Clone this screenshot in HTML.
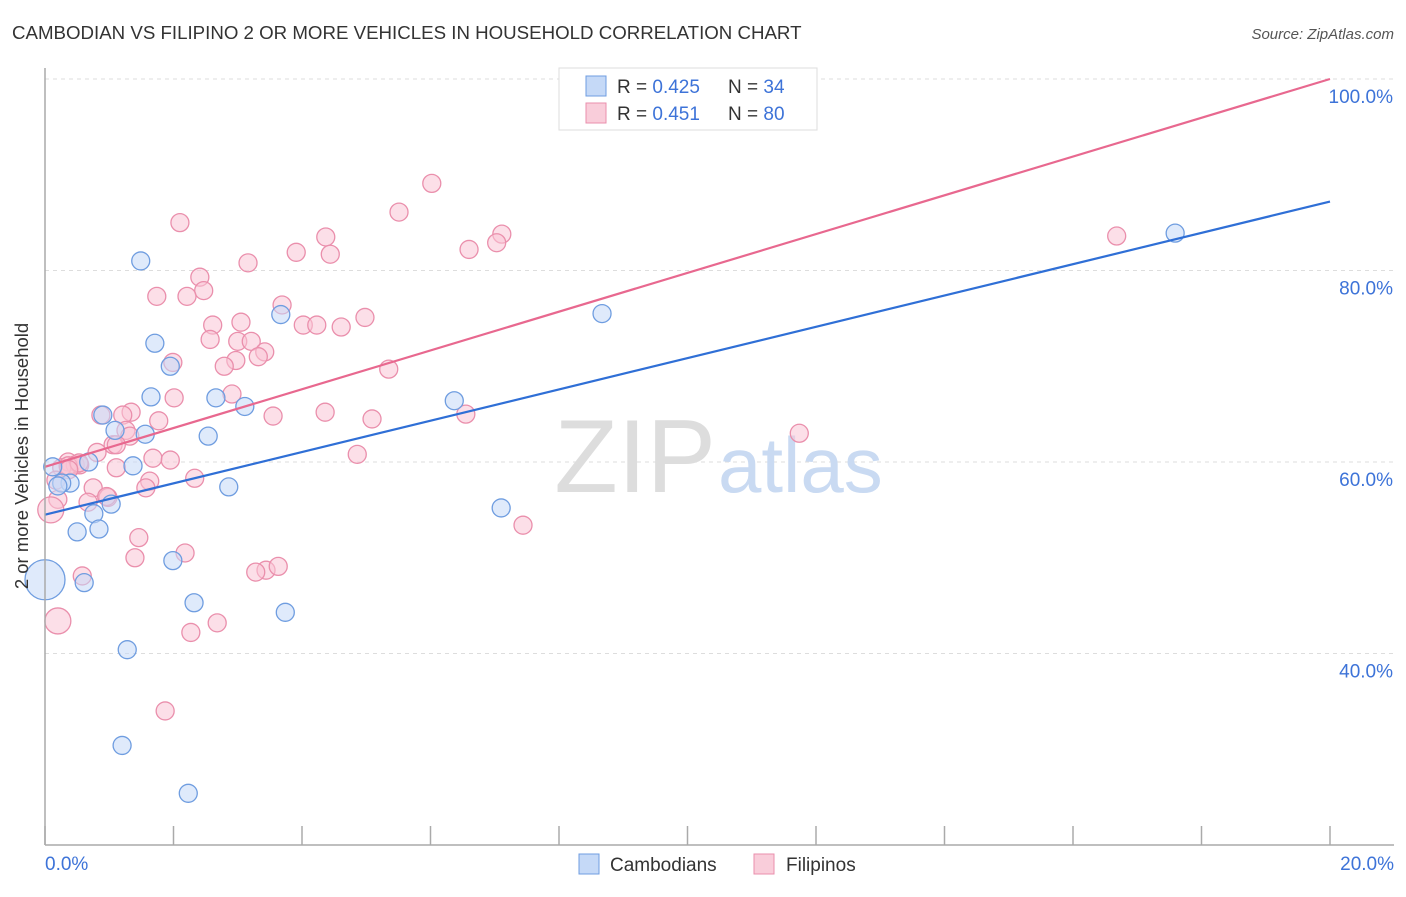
<!DOCTYPE html>
<html><head><meta charset="utf-8"><style>
body{margin:0;background:#fff;font-family:"Liberation Sans",sans-serif}
svg text{font-family:"Liberation Sans",sans-serif}
</style></head><body>
<svg width="1406" height="892" viewBox="0 0 1406 892" xmlns="http://www.w3.org/2000/svg">
<text x="12" y="39" font-size="18.7" fill="#333">CAMBODIAN VS FILIPINO 2 OR MORE VEHICLES IN HOUSEHOLD CORRELATION CHART</text>
<text x="1394" y="39" font-size="15" fill="#555" text-anchor="end" font-style="italic">Source: ZipAtlas.com</text>
<g id="grid"></g>
<text x="716" y="492" font-size="104" fill="#ddd" text-anchor="end" font-family="Liberation Serif">ZIP</text>
<text x="718" y="492" font-size="78" fill="#c9daf2">atlas</text>
<g id="pts"></g>
<g id="lines"></g>
<g id="axes"></g>
<text x="28" y="456" font-size="18.5" fill="#333" text-anchor="middle" transform="rotate(-90 28 456)">2 or more Vehicles in Household</text>
<g>
<rect x="559" y="68" width="258" height="62" fill="#fff" stroke="#ddd"/>
<rect x="586" y="76" width="20" height="20" fill="#c5d9f7" stroke="#6f9de0"/>
<rect x="586" y="103" width="20" height="20" fill="#f9cdda" stroke="#ea8fac"/>
<text x="617" y="93" font-size="19" fill="#333">R = <tspan fill="#3d73d8">0.425</tspan><tspan x="728">N = </tspan><tspan fill="#3d73d8">34</tspan></text>
<text x="617" y="120" font-size="19" fill="#333">R = <tspan fill="#3d73d8"> 0.451</tspan><tspan x="728">N = </tspan><tspan fill="#3d73d8">80</tspan></text>
</g>
<g>
<rect x="579" y="854" width="20" height="20" fill="#c5d9f7" stroke="#6f9de0"/>
<text x="610" y="871" font-size="19" fill="#333">Cambodians</text>
<rect x="754" y="854" width="20" height="20" fill="#f9cdda" stroke="#ea8fac"/>
<text x="786" y="871" font-size="19" fill="#333">Filipinos</text>
</g>
</svg>
<script>
const blueX=[1.49,1.71,1.95,1.65,2.66,3.11,1.09,1.56,2.54,1.37,0.12,0.68,0.39,0.26,0.20,2.86,1.03,0.76,0.84,0.50,1.99,0.61,0.0,2.32,3.74,1.28,1.20,2.23,3.67,8.67,6.37,7.10,17.59,0.90];
const blueY=[81.0,72.4,70.0,66.8,66.7,65.8,63.3,62.9,62.7,59.6,59.5,60.0,57.8,57.8,57.5,57.4,55.6,54.6,53.0,52.7,49.7,47.4,47.7,45.3,44.3,40.4,30.4,25.4,75.4,75.5,66.4,55.2,83.9,64.9];
const blueBig=[22];
const pinkX=[6.02,2.10,5.51,4.37,7.11,6.60,7.03,3.91,4.44,3.16,16.68,2.41,2.47,1.74,2.21,3.69,4.98,4.02,4.23,2.61,3.05,4.61,2.57,3.00,3.21,3.42,1.99,3.32,2.97,2.79,5.35,2.91,2.01,1.34,0.87,1.21,3.55,4.36,6.55,5.09,1.77,1.26,11.74,1.32,1.06,0.81,1.68,1.95,0.36,0.47,0.54,0.26,1.11,4.86,2.33,1.63,1.57,0.75,0.98,0.67,0.20,0.09,7.44,1.46,2.18,1.40,3.44,3.28,3.63,0.58,2.27,2.68,0.20,1.87,0.36,0.17,0.53,1.11,0.96,0.37];
const pinkY=[89.1,85.0,86.1,83.5,83.8,82.2,82.9,81.9,81.7,80.8,83.6,79.3,77.9,77.3,77.3,76.4,75.1,74.3,74.3,74.3,74.6,74.1,72.8,72.6,72.6,71.5,70.4,71.0,70.6,70.0,69.7,67.1,66.7,65.2,64.9,64.9,64.8,65.2,65.0,64.5,64.3,63.3,63.0,62.7,61.8,61.0,60.4,60.2,60.0,59.7,59.7,59.4,59.4,60.8,58.3,58.0,57.3,57.3,56.3,55.8,56.1,55.0,53.4,52.1,50.5,50.0,48.7,48.5,49.1,48.1,42.2,43.2,43.4,34.0,59.6,58.1,59.9,61.8,56.4,59.2];
const pinkBig=[61,72];
const yTicks=[40,60,80,100];
const yTickLabels=["40.0%","60.0%","80.0%","100.0%"];
const xTickLabels=["0.0%","20.0%"];
const blueLine=[54.5,87.2];
const pinkLine=[59.5,100.0];
const NS="http://www.w3.org/2000/svg";
const sx=v=>45+v*64.25;
const sy=v=>462-(v-60)*9.575;
function mk(tag,attrs,parent){const e=document.createElementNS(NS,tag);for(const k in attrs)e.setAttribute(k,attrs[k]);parent.appendChild(e);return e;}
const grid=document.getElementById('grid'),axes=document.getElementById('axes'),pts=document.getElementById('pts'),lines=document.getElementById('lines');
yTicks.forEach((t,i)=>{
 const l=mk('line',{x1:45,x2:1394,y1:sy(t),y2:sy(t),stroke:'#ddd','stroke-dasharray':'4,4'},grid);
 
 
 const tx=mk('text',{x:1393,y:sy(t)+24,'font-size':19,fill:'#3d73d8','text-anchor':'end'},axes);
 tx.textContent=yTickLabels[i];
 
 
});
mk('line',{x1:45,x2:45,y1:68,y2:845,stroke:'#aaa','stroke-width':1.5},axes);
mk('line',{x1:45,x2:1394,y1:845,y2:845,stroke:'#aaa','stroke-width':1.5},axes);
for(let i=0;i<=10;i++){mk('line',{x1:sx(i*2),x2:sx(i*2),y1:826,y2:845,stroke:'#aaa','stroke-width':1.5},axes);}
[[0,'start',45],[20,'end',1394]].forEach((d,i)=>{
 const tx=mk('text',{x:d[2],y:870,'font-size':19,fill:'#3d73d8','text-anchor':d[1]},axes);
 tx.textContent=xTickLabels[i];
 
 
});
function drawPts(X,Y,big,fill,stroke,name){
 X.forEach((x,i)=>{
  const r=big.includes(i)?(name==='cambodian-point'?20:13):9;
  const c=mk('circle',{cx:sx(x),cy:sy(Y[i]),r:r,fill:fill,'fill-opacity':0.55,stroke:stroke,'stroke-width':1.3},pts);
  
  
 });
}
drawPts(pinkX,pinkY,pinkBig,'#f9c5d5','#ea8fac','filipino-point');
drawPts(blueX,blueY,blueBig,'#c5d9f7','#6f9de0','cambodian-point');
const bl=mk('line',{x1:sx(0),y1:sy(blueLine[0]),x2:sx(20),y2:sy(blueLine[1]),stroke:'#2f6fd6','stroke-width':2.2},lines);


const pl=mk('line',{x1:sx(0),y1:sy(pinkLine[0]),x2:sx(20),y2:sy(pinkLine[1]),stroke:'#e8688f','stroke-width':2.2},lines);


</script>
</body></html>
